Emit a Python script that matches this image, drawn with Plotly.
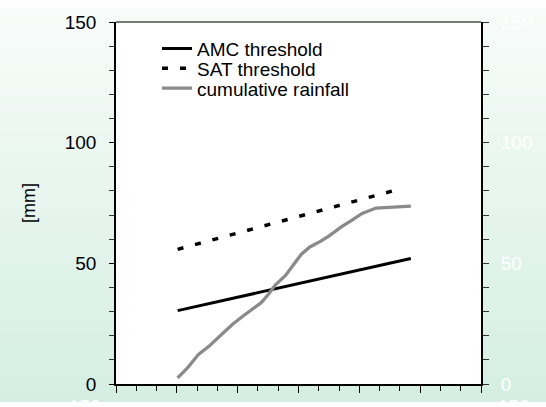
import plotly.graph_objects as go

# ---- data (x in axis units, 0..18 along the horizontal axis) ----
rain_x = [3.04, 3.55, 4.07, 4.58, 5.27, 5.78, 6.30, 7.16, 7.50, 7.85, 8.36, 8.79,
          9.13, 9.56, 10.08, 10.51, 11.11, 11.62, 12.14, 12.82, 14.02, 14.54]
rain_mm = [2.5, 6.9, 12.3, 15.6, 21.0, 25.0, 28.4, 33.7, 37.0, 41.0, 45.0, 49.7,
           53.7, 56.8, 59.1, 61.4, 65.1, 67.8, 70.7, 72.9, 73.4, 73.7]
amc_x = [3.04, 14.54]
amc_mm = [30.4, 52.0]
sat_x = [3.04, 13.86]
sat_mm = [55.8, 80.5]
y_ticks = [0, 50, 100, 150]
bottom_labels = ["150", "150"]

W, H = 546, 407
L, R, T, B = 116, 65, 15, 18
pw, ph = W - L - R, H - T - B
FONT = "Arial, Liberation Sans, sans-serif"

fig = go.Figure()
fig.add_trace(go.Scatter(x=amc_x, y=amc_mm, mode="lines", name="AMC threshold",
                         line=dict(color="black", width=3), legend="legend"))
fig.add_trace(go.Scatter(x=sat_x, y=sat_mm, mode="lines", name="SAT threshold",
                         line=dict(color="black", width=3.5, dash="6px,12px"), legend="legend2"))
fig.add_trace(go.Scatter(x=rain_x, y=rain_mm, mode="lines", name="cumulative rainfall",
                         line=dict(color="#8a8a8a", width=3.3), legend="legend3"))
# invisible trace for right axis
fig.add_trace(go.Scatter(x=[0], y=[0], yaxis="y2", mode="lines", showlegend=False,
                         line=dict(width=0), hoverinfo="skip"))


def px2paper_x(px):
    return (px - L) / pw


def px2paper_y(py):
    return (H - B - py) / ph


# background gradient strips in paper coords
top_c = (248, 252, 250)
bot_c = (212, 238, 226)
n = 60
shapes = []
for i in range(n):
    y0p = H * i / n
    y1p = H * (i + 1) / n
    f = (i + 0.5) / n
    c = tuple(round(top_c[k] + (bot_c[k] - top_c[k]) * f) for k in range(3))
    shapes.append(dict(type="rect", xref="paper", yref="paper", layer="below",
                       x0=px2paper_x(0), x1=px2paper_x(W),
                       y0=px2paper_y(y1p + 0.5), y1=px2paper_y(y0p),
                       line=dict(width=0), fillcolor="rgb(%d,%d,%d)" % c))
shapes.append(dict(type="rect", xref="paper", yref="paper", layer="below",
                   x0=0, x1=1, y0=0, y1=1, line=dict(width=0), fillcolor="white"))
shapes.append(dict(type="line", xref="paper", yref="paper", x0=0, x1=1.0, y0=1, y1=1,
                   line=dict(color="#7a7a7a", width=2)))

legend_common = dict(x=px2paper_x(157), xanchor="left", yanchor="middle",
                     bgcolor="rgba(0,0,0,0)", borderwidth=0,
                     font=dict(family=FONT, size=19, color="black"))

fig.update_layout(
    width=W, height=H,
    margin=dict(l=L, r=R, t=T, b=B, pad=0),
    paper_bgcolor="rgba(0,0,0,0)",
    plot_bgcolor="white",
    font=dict(family=FONT, size=19, color="black"),
    shapes=shapes,
    legend=dict(y=px2paper_y(42.5), **legend_common),
    legend2=dict(y=px2paper_y(63), **legend_common),
    legend3=dict(y=px2paper_y(83.5), **legend_common),
    xaxis=dict(range=[0, 18], showgrid=False, zeroline=False, showline=True,
               linecolor="black", linewidth=1.5, ticks="outside", tick0=0, dtick=3,
               ticklen=7, tickwidth=1.3, tickcolor="black", showticklabels=False,
               minor=dict(dtick=1, ticks="outside", ticklen=5, tickwidth=1.2,
                          tickcolor="black")),
    yaxis=dict(range=[0, 150], tickvals=y_ticks, showgrid=False, zeroline=False,
               showline=True, linecolor="black", linewidth=1.5, ticks="outside",
               ticklen=5, tickwidth=1.2, tickcolor="black", ticklabelstandoff=9,
               tickfont=dict(family=FONT, size=19, color="black"),
               minor=dict(dtick=10, ticks="outside", ticklen=5, tickwidth=1.2,
                          tickcolor="#333"),
               title=dict(text="[mm]", standoff=24,
                          font=dict(family=FONT, size=18, color="black"))),
    yaxis2=dict(range=[0, 150], tickvals=y_ticks, overlaying="y", side="right",
                showgrid=False, zeroline=False, showline=True, linecolor="black",
                linewidth=2, ticks="outside", ticklen=6, tickwidth=1.2,
                tickcolor="#333", ticklabelstandoff=8,
                tickfont=dict(family=FONT, size=19, color="white"),
                minor=dict(dtick=10, ticks="outside", ticklen=6, tickwidth=1.2,
                           tickcolor="#333")),
    annotations=[
        dict(text=bottom_labels[0], xref="paper", yref="paper", x=px2paper_x(85),
             y=px2paper_y(399), xanchor="center", yanchor="top", showarrow=False,
             font=dict(family=FONT, size=19, color="white")),
        dict(text=bottom_labels[1], xref="paper", yref="paper", x=px2paper_x(514),
             y=px2paper_y(399), xanchor="center", yanchor="top", showarrow=False,
             font=dict(family=FONT, size=19, color="white")),
    ],
)

fig.write_html("out.html")
